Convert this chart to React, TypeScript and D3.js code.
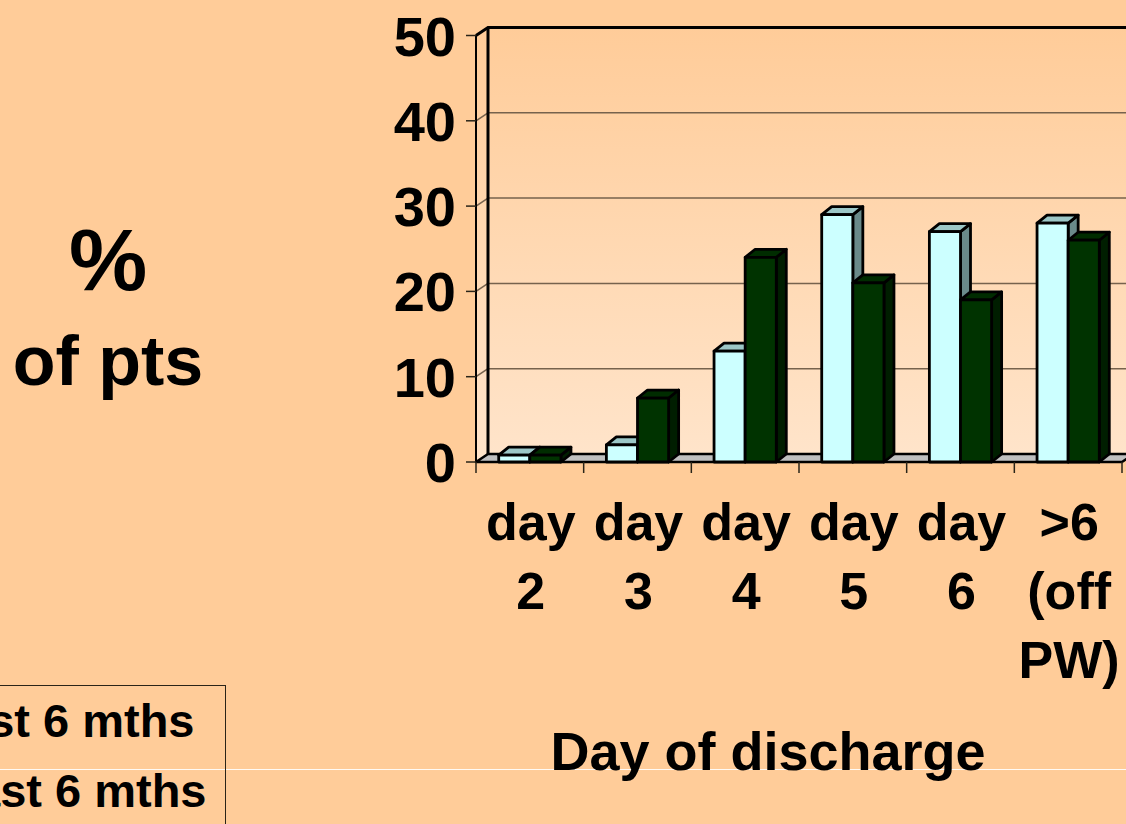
import React, { useEffect } from 'react';
import * as d3 from 'd3';

// chart values
const categories = ['day 2', 'day 3', 'day 4', 'day 5', 'day 6', '>6 (off PW)'];
const categoryLines = [['day', '2'], ['day', '3'], ['day', '4'], ['day', '5'], ['day', '6'], ['>6', '(off', 'PW)']];
const seriesNames = ['First 6 mths', 'Last 6 mths'];
const firstSix = [0.8, 2, 13, 29, 27, 28];
const lastSix = [0.8, 7.5, 24, 21, 19, 26];
const yTicks = [0, 10, 20, 30, 40, 50];

const W = 1126;
const H = 824;
const FONT = '"Liberation Sans", Arial, sans-serif';

export default function App() {
  useEffect(() => {
    document.body.style.margin = '0';
  }, []);

  // front plane scales
  const x = d3.scaleBand<string>().domain(categories).range([476, 1122]);
  const xs = d3.scaleBand<string>().domain(seriesNames).range([0, x.bandwidth()]).paddingOuter(0.73);
  const y = d3.scaleLinear().domain([0, 50]).range([462, 35.5]);

  // depth of the wall and the bars
  const wallDx = 12, wallDy = 8;
  const barDx = 10, barDy = 8;
  const right = W + 20;
  const left = x.range()[0];

  const series = [
    { name: seriesNames[0], values: firstSix, front: '#CCFFFF', top: '#9CC7C7', side: '#6A8A8A' },
    { name: seriesNames[1], values: lastSix, front: '#003300', top: '#002C00', side: '#001E00' },
  ];

  const y0 = y(0);
  const bw = xs.bandwidth();

  return (
    <svg width={W} height={H} style={{ display: 'block' }}>
      <defs>
        <linearGradient id="wall" x1="0" y1={y(50) - wallDy} x2="0" y2={y0 - wallDy} gradientUnits="userSpaceOnUse">
          <stop offset="0" stopColor="#FFCC99" />
          <stop offset="1" stopColor="#FFE4CA" />
        </linearGradient>
      </defs>
      <rect width={W} height={H} fill="#FFCC99" />
      <line x1={0} x2={W} y1={769.5} y2={769.5} stroke="#FFFFFF" strokeWidth={1} opacity={0.9} />

      {/* side wall + back wall */}
      <polygon
        points={`${left},${y(50)} ${left + wallDx},${y(50) - wallDy} ${left + wallDx},${y0 - wallDy} ${left},${y0}`}
        fill="url(#wall)"
      />
      <rect x={left + wallDx} y={y(50) - wallDy} width={right} height={y0 - y(50)} fill="url(#wall)" />

      {/* gridlines */}
      {yTicks.filter(t => t > 0 && t < 50).map(t => (
        <g key={t} stroke="#76624D" strokeWidth={1.5}>
          <line x1={left + wallDx} x2={right} y1={y(t) - wallDy} y2={y(t) - wallDy} />
          <line x1={left} x2={left + wallDx} y1={y(t)} y2={y(t) - wallDy} />
        </g>
      ))}

      {/* back wall borders */}
      <path
        d={`M${left},${y(50)} L${left + wallDx},${y(50) - wallDy} L${right},${y(50) - wallDy}`}
        fill="none" stroke="#000" strokeWidth={3}
      />
      <line x1={left + wallDx} x2={left + wallDx} y1={y(50) - wallDy} y2={y0 - wallDy} stroke="#000" strokeWidth={3} />

      {/* floor */}
      <polygon
        points={`${left},${y0} ${left + wallDx},${y0 - wallDy} ${x.range()[1] + wallDx},${y0 - wallDy} ${x.range()[1]},${y0}`}
        fill="#C0C0C0" stroke="#000" strokeWidth={2.5} strokeLinejoin="round"
      />

      {/* front y axis */}
      <line x1={left} x2={left} y1={y(50)} y2={y0} stroke="#000" strokeWidth={2} />
      {yTicks.map(t => (
        <g key={t}>
          <line x1={left - 10} x2={left} y1={y(t)} y2={y(t)} stroke="#2A2418" strokeWidth={1.5} />
          <text x={456} y={y(t) + 20} textAnchor="end" fontFamily={FONT} fontWeight="bold" fontSize={56}>{t}</text>
        </g>
      ))}

      {/* category ticks */}
      {[left, ...categories.map(c => (x(c) as number) + x.bandwidth())].map((px, i) => (
        <line key={i} x1={px} x2={px} y1={y0} y2={y0 + 11} stroke="#2A2418" strokeWidth={1.5} />
      ))}

      {/* bars */}
      {categories.map((c, i) => (
        <g key={c}>
          {series.map(s => {
            const bx = (x(c) as number) + (xs(s.name) as number);
            const by = y(s.values[i]);
            return (
              <g key={s.name} stroke="#000" strokeWidth={2.8} strokeLinejoin="round">
                <polygon
                  points={`${bx + bw},${by} ${bx + bw + barDx},${by - barDy} ${bx + bw + barDx},${y0 - barDy} ${bx + bw},${y0}`}
                  fill={s.side}
                />
                <polygon
                  points={`${bx},${by} ${bx + barDx},${by - barDy} ${bx + bw + barDx},${by - barDy} ${bx + bw},${by}`}
                  fill={s.top}
                />
                <rect x={bx} y={by} width={bw} height={y0 - by} fill={s.front} />
              </g>
            );
          })}
        </g>
      ))}

      {/* category labels */}
      {categories.map((c, i) => (
        <text key={c} textAnchor="middle" fontFamily={FONT} fontWeight="bold" fontSize={52}>
          {categoryLines[i].map((ln, j) => (
            <tspan key={j} x={(x(c) as number) + x.bandwidth() / 2 + 1} y={y0 + 78 + j * 69}>{ln}</tspan>
          ))}
        </text>
      ))}

      {/* axis titles */}
      <text x={768} y={770} textAnchor="middle" fontFamily={FONT} fontWeight="bold" fontSize={54}>Day of discharge</text>
      <text x={108} y={290} textAnchor="middle" fontFamily={FONT} fontWeight="bold" fontSize={88}>%</text>
      <text x={108} y={385} textAnchor="middle" fontFamily={FONT} fontWeight="bold" fontSize={70}>of pts</text>

      {/* legend, cut off by the slide edge as in the original */}
      <rect x={-300} y={685.5} width={525.5} height={400} fill="none" stroke="#2A2418" strokeWidth={1} />
      <text x={194.5} y={737} textAnchor="end" fontFamily={FONT} fontWeight="bold" fontSize={47}>{seriesNames[0]}</text>
      <text x={206.5} y={807} textAnchor="end" fontFamily={FONT} fontWeight="bold" fontSize={47}>{seriesNames[1]}</text>
    </svg>
  );
}
